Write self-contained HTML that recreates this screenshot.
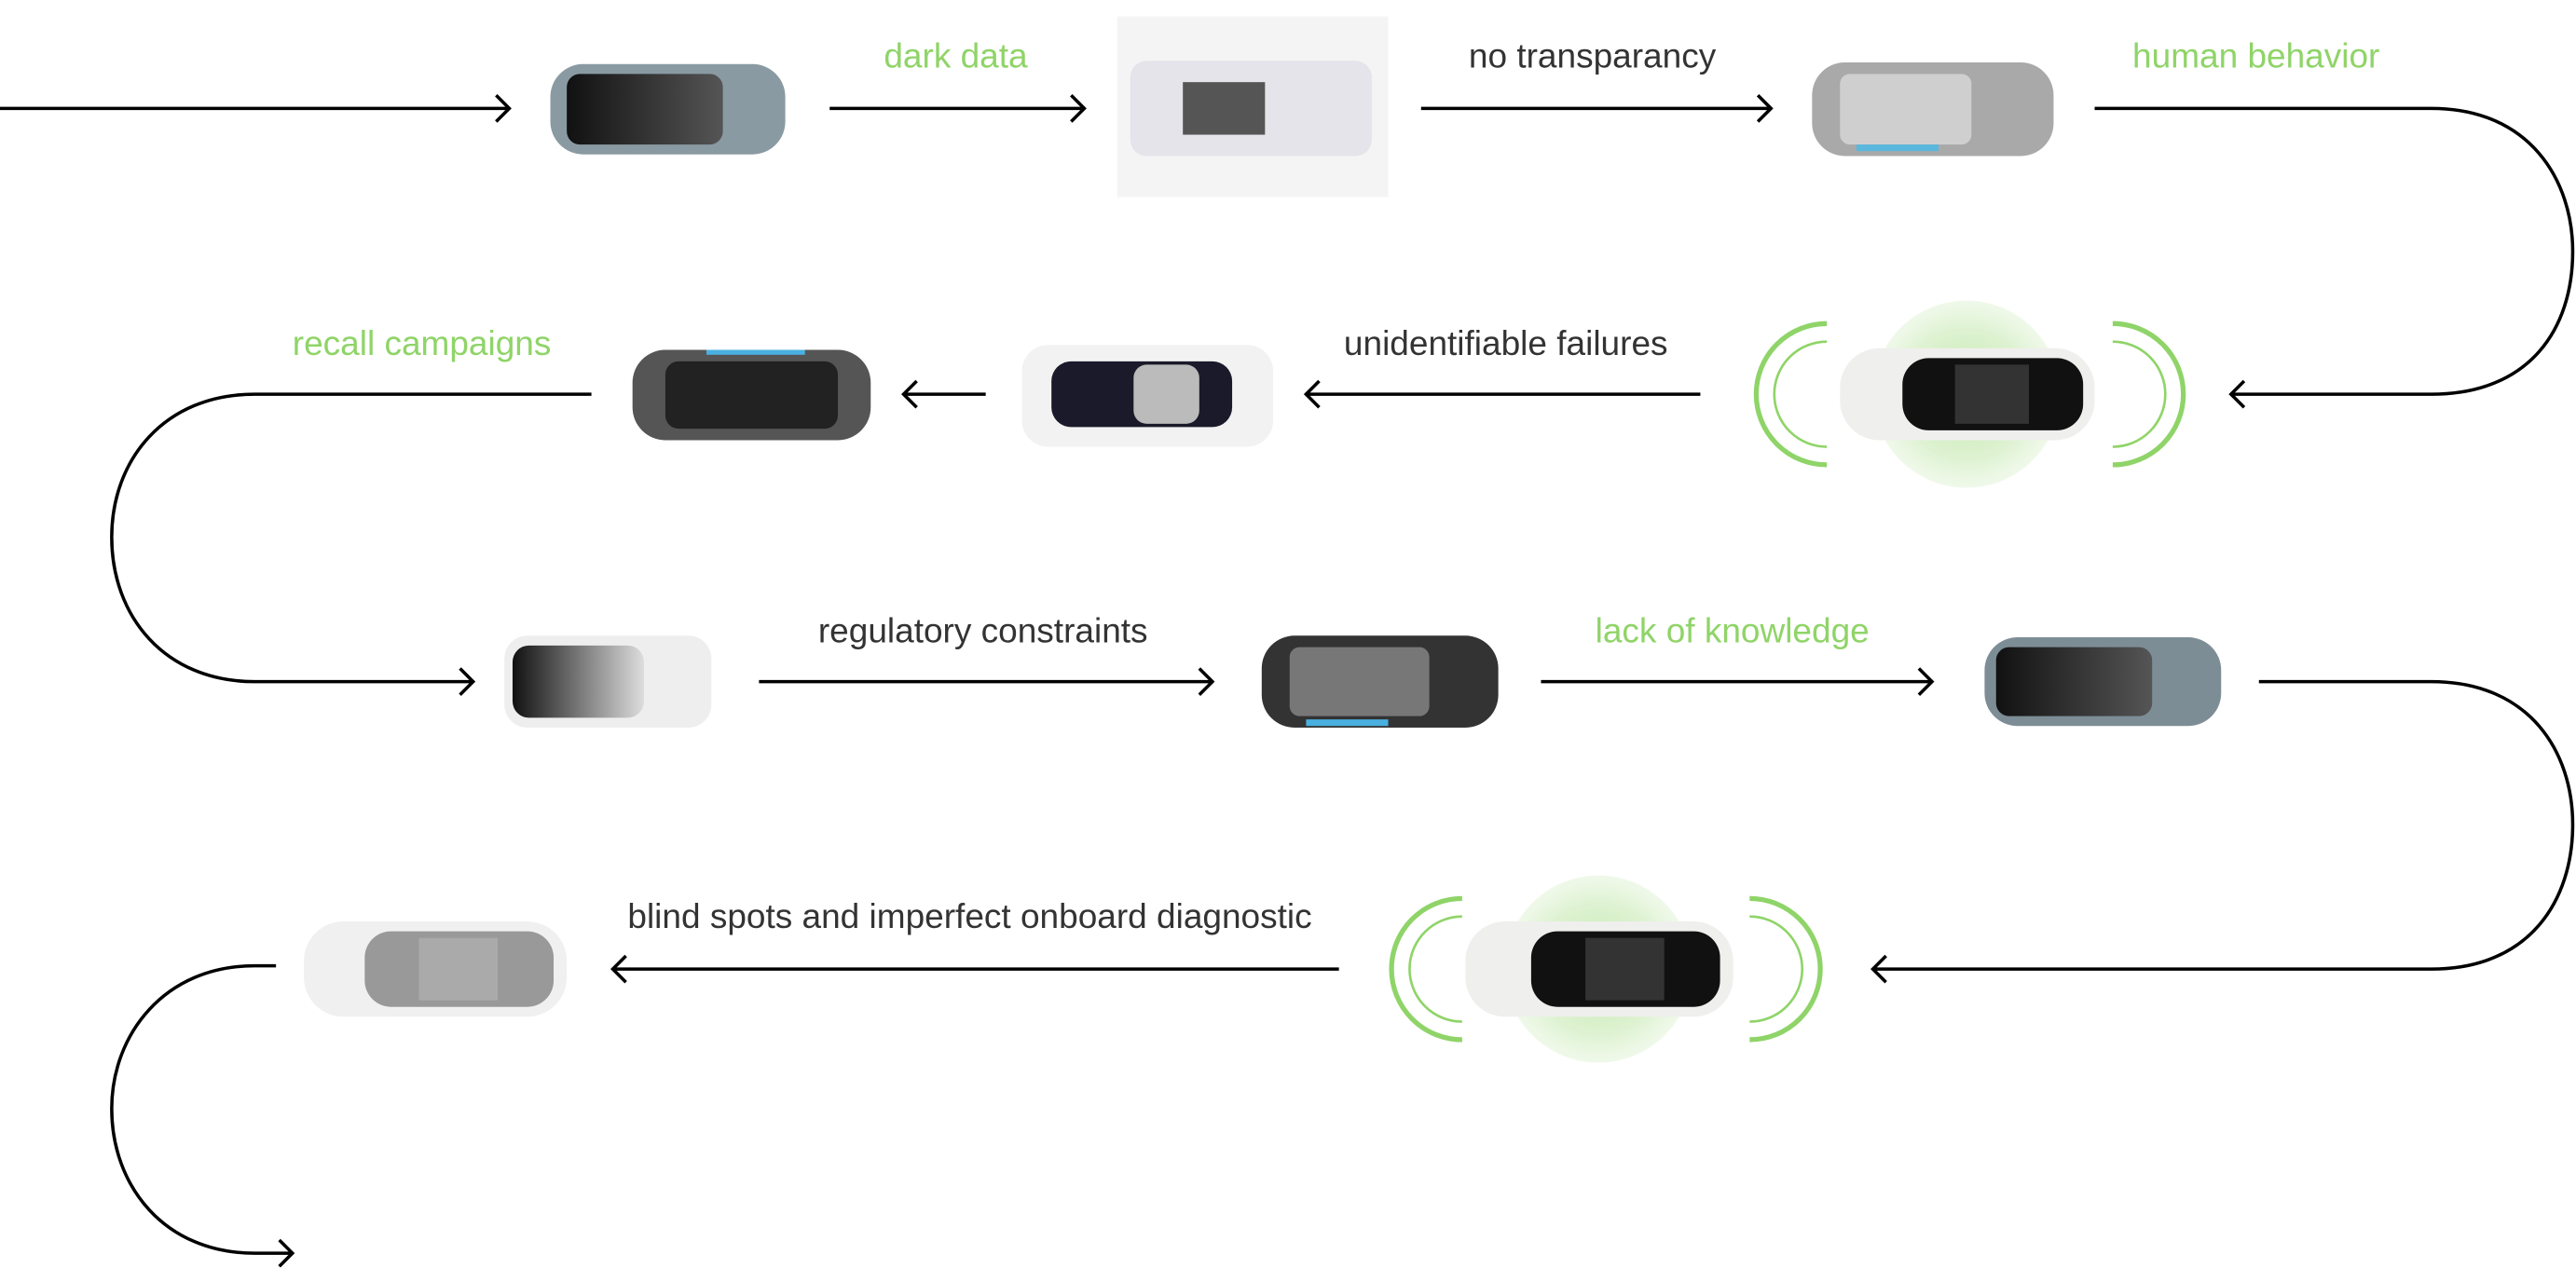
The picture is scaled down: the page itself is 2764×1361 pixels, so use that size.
<!DOCTYPE html>
<html><head><meta charset="utf-8">
<style>
html,body{margin:0;padding:0;background:#fff;}
svg{display:block;}
text{font-family:"Liberation Sans",sans-serif;font-size:21px;}
.g{fill:#8fd468;}
.d{fill:#333;}
.ln{fill:none;stroke:#000;stroke-width:2;}
.ah{fill:none;stroke:#000;stroke-width:2;}
.w1{fill:none;stroke:#8fd468;stroke-width:3;}
.w2{fill:none;stroke:#8fd468;stroke-width:1.5;}
</style></head><body>
<svg width="2764" height="1361" viewBox="0 0 1568 772" preserveAspectRatio="none" xmlns="http://www.w3.org/2000/svg">
<defs>
<radialGradient id="glow"><stop offset="0" stop-color="#b5e29a" stop-opacity="0.85"/><stop offset="0.7" stop-color="#d3eec3" stop-opacity="0.75"/><stop offset="1" stop-color="#e6f5dc" stop-opacity="0.6"/></radialGradient>
<linearGradient id="roofg" x1="0" x2="1"><stop offset="0" stop-color="#111"/><stop offset="1" stop-color="#555"/></linearGradient>
<linearGradient id="roofm" x1="0" x2="1"><stop offset="0" stop-color="#111"/><stop offset="1" stop-color="#ddd"/></linearGradient>
</defs>

<!-- Row 1 -->
<path class="ln" d="M0 66 H310"/><path class="ah" d="M302 58 L310 66 L302 74"/>
<path class="ln" d="M505 66 H660"/><path class="ah" d="M652 58 L660 66 L652 74"/>
<path class="ln" d="M865 66 H1078"/><path class="ah" d="M1070 58 L1078 66 L1070 74"/>
<path class="ln" d="M1275 66 H1480 C1540 66 1566 110 1566 153 C1566 200 1540 240 1480 240 H1358"/>
<path class="ah" d="M1366 232 L1358 240 L1366 248"/>
<text x="538" y="41" class="g">dark data</text>
<text x="894" y="41" class="d">no transparancy</text>
<text x="1298" y="41" class="g">human behavior</text>

<rect x="335" y="39" width="143" height="55" rx="20" fill="#8a9aa2"/>
<rect x="345" y="45" width="95" height="43" rx="8" fill="url(#roofg)"/>
<rect x="680" y="10" width="165" height="110" fill="#f4f4f4"/>
<rect x="688" y="37" width="147" height="58" rx="10" fill="#e4e4ea"/>
<rect x="720" y="50" width="50" height="32" fill="#555"/>
<rect x="1103" y="38" width="147" height="57" rx="20" fill="#a9a9a9"/>
<rect x="1120" y="45" width="80" height="43" rx="6" fill="#cfcfcf"/>
<rect x="1130" y="88" width="50" height="4" fill="#5ab7dd"/>

<!-- Row 2 -->
<path class="ln" d="M1035 240 H795"/><path class="ah" d="M803 232 L795 240 L803 248"/>
<path class="ln" d="M600 240 H550"/><path class="ah" d="M558 232 L550 240 L558 248"/>
<path class="ln" d="M360 240 H155 C100 240 68 280 68 327 C68 375 100 415 155 415 H288"/>
<path class="ah" d="M280 407 L288 415 L280 423"/>
<text x="818" y="216" class="d">unidentifiable failures</text>
<text x="178" y="216" class="g">recall campaigns</text>

<circle cx="1197" cy="240" r="57" fill="url(#glow)"/>
<path class="w1" d="M1112 197 A43 43 0 0 0 1112 283"/>
<path class="w2" d="M1112 208 A32 32 0 0 0 1112 272"/>
<path class="w1" d="M1286 197 A43 43 0 0 1 1286 283"/>
<path class="w2" d="M1286 208 A32 32 0 0 1 1286 272"/>
<rect x="1120" y="212" width="155" height="56" rx="24" fill="#efefed"/>
<rect x="1158" y="218" width="110" height="44" rx="16" fill="#111"/>
<rect x="1190" y="222" width="45" height="36" fill="#333"/>

<rect x="622" y="210" width="153" height="62" rx="16" fill="#f2f2f2"/>
<rect x="640" y="220" width="110" height="40" rx="12" fill="#1a1a2a"/>
<rect x="690" y="222" width="40" height="36" rx="8" fill="#bbb"/>
<rect x="385" y="213" width="145" height="55" rx="20" fill="#555"/>
<rect x="405" y="220" width="105" height="41" rx="8" fill="#222"/>
<rect x="430" y="213" width="60" height="3" fill="#4ab0e0"/>

<!-- Row 3 -->
<path class="ln" d="M462 415 H738"/><path class="ah" d="M730 407 L738 415 L730 423"/>
<path class="ln" d="M938 415 H1176"/><path class="ah" d="M1168 407 L1176 415 L1168 423"/>
<path class="ln" d="M1375 415 H1480 C1540 415 1566 458 1566 502 C1566 548 1540 590 1480 590 H1140"/>
<path class="ah" d="M1148 582 L1140 590 L1148 598"/>
<text x="498" y="391" class="d">regulatory constraints</text>
<text x="971" y="391" class="g">lack of knowledge</text>

<rect x="307" y="387" width="126" height="56" rx="14" fill="#eeeeee"/>
<rect x="312" y="393" width="80" height="44" rx="10" fill="url(#roofm)"/>
<rect x="768" y="387" width="144" height="56" rx="20" fill="#333"/>
<rect x="785" y="394" width="85" height="42" rx="6" fill="#777"/>
<rect x="795" y="438" width="50" height="4" fill="#4ab0e0"/>
<rect x="1208" y="388" width="144" height="54" rx="20" fill="#7d8d96"/>
<rect x="1215" y="394" width="95" height="42" rx="8" fill="url(#roofg)"/>

<!-- Row 4 -->
<path class="ln" d="M815 590 H373"/><path class="ah" d="M381 582 L373 590 L381 598"/>
<path class="ln" d="M168 588 H155 C100 588 68 630 68 675 C68 722 100 763 155 763 H178"/>
<path class="ah" d="M170 755 L178 763 L170 771"/>
<text x="382" y="565" class="d">blind spots and imperfect onboard diagnostic</text>

<circle cx="973" cy="590" r="57" fill="url(#glow)"/>
<path class="w1" d="M890 547 A43 43 0 0 0 890 633"/>
<path class="w2" d="M890 558 A32 32 0 0 0 890 622"/>
<path class="w1" d="M1065 547 A43 43 0 0 1 1065 633"/>
<path class="w2" d="M1065 558 A32 32 0 0 1 1065 622"/>
<rect x="892" y="561" width="163" height="58" rx="24" fill="#efefed"/>
<rect x="932" y="567" width="115" height="46" rx="16" fill="#111"/>
<rect x="965" y="571" width="48" height="38" fill="#333"/>

<rect x="185" y="561" width="160" height="58" rx="24" fill="#f0f0f0"/>
<rect x="222" y="567" width="115" height="46" rx="16" fill="#999"/>
<rect x="255" y="571" width="48" height="38" fill="#aaa"/>
</svg>
</body></html>
